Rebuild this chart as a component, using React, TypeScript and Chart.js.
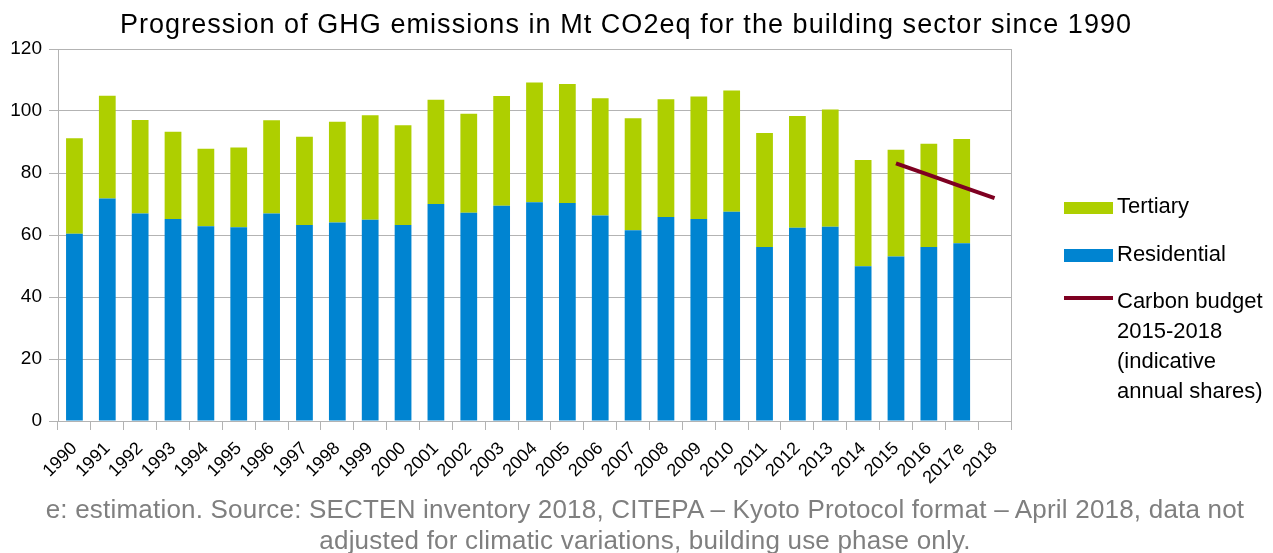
import React, { useEffect, useRef } from 'react';
import { Chart, registerables } from 'chart.js';

Chart.register(...registerables);

const years = ['1990', '1991', '1992', '1993', '1994', '1995', '1996', '1997', '1998', '1999', '2000', '2001', '2002', '2003', '2004', '2005', '2006', '2007', '2008', '2009', '2010', '2011', '2012', '2013', '2014', '2015', '2016', '2017e', '2018'];

const residential = [60.4, 71.8, 66.9, 65.2, 62.8, 62.5, 66.9, 63.2, 64.0, 64.9, 63.2, 70.0, 67.2, 69.4, 70.6, 70.3, 66.3, 61.5, 65.8, 65.2, 67.5, 56.1, 62.3, 62.7, 49.9, 53.1, 56.1, 57.3, null];

const tertiary = [30.8, 33.1, 30.2, 28.1, 25.0, 25.7, 30.1, 28.5, 32.5, 33.7, 32.2, 33.6, 31.9, 35.4, 38.6, 38.4, 37.8, 36.2, 38.0, 39.5, 39.1, 36.8, 36.1, 37.8, 34.3, 34.4, 33.3, 33.7, null];

const carbonBudget = [null, null, null, null, null, null, null, null, null, null, null, null, null, null, null, null, null, null, null, null, null, null, null, null, null, 83.1, 79.4, 75.6, 71.9];

const yTicks = { min: 0, max: 120, step: 20 };

const title = 'Progression of GHG emissions in Mt CO2eq for the building sector since 1990';
const footnoteLines = [
  'e: estimation. Source: SECTEN inventory 2018, CITEPA \u2013 Kyoto Protocol format \u2013 April 2018, data not',
  'adjusted for climatic variations, building use phase only.',
];

const legendItems = [
  { label: ['Tertiary'], color: '#aecf00', kind: 'box' },
  { label: ['Residential'], color: '#0084d1', kind: 'box' },
  { label: ['Carbon budget', '2015-2018', '(indicative', 'annual shares)'], color: '#7e0021', kind: 'line' },
];

const FONT = '"Liberation Sans", Arial, sans-serif';
const GRID = '#b3b3b3';

export default function App() {
  const ref = useRef<HTMLCanvasElement | null>(null);

  useEffect(() => {
    if (!ref.current) return;
    const chart = new Chart(ref.current, {
      type: 'bar',
      data: {
        labels: years,
        datasets: [
          {
            type: 'line',
            label: 'Carbon budget 2015-2018 (indicative annual shares)',
            data: carbonBudget,
            borderColor: '#7e0021',
            backgroundColor: '#7e0021',
            borderWidth: 4,
            pointRadius: 0,
            stack: 'budget',
            order: 0,
            spanGaps: false,
          } as any,
          {
            label: 'Residential',
            data: residential,
            backgroundColor: '#0084d1',
            stack: 'emissions',
            order: 1,
            barPercentage: 0.51,
            categoryPercentage: 1,
          },
          {
            label: 'Tertiary',
            data: tertiary,
            backgroundColor: '#aecf00',
            stack: 'emissions',
            order: 1,
            barPercentage: 0.51,
            categoryPercentage: 1,
          },
        ],
      },
      options: {
        responsive: false,
        animation: false,
        layout: { padding: { left: 0, right: 20, top: 49, bottom: 64 } },
        plugins: {
          legend: { display: false },
          tooltip: { enabled: false },
          title: { display: false },
        },
        scales: {
          x: {
            stacked: true,
            afterFit: (s: any) => { s.height = 68; },
            grid: { display: true, drawOnChartArea: false, drawTicks: true, tickLength: 9, color: GRID, offset: true },
            border: { display: true, color: GRID },
            ticks: {
              autoSkip: false,
              minRotation: 45,
              maxRotation: 45,
              color: '#000',
              padding: 8,
              font: { family: FONT, size: 18 },
            },
          },
          y: {
            stacked: true,
            min: yTicks.min,
            max: yTicks.max,
            afterFit: (s: any) => { s.width = 58; },
            grid: { color: GRID, tickLength: 9 },
            border: { display: true, color: GRID },
            ticks: {
              stepSize: yTicks.step,
              color: '#000',
              padding: 7,
              font: { family: FONT, size: 19 },
            },
          },
          y2: {
            position: 'right',
            min: yTicks.min,
            max: yTicks.max,
            afterFit: (s: any) => { s.width = 242; },
            grid: { display: false },
            border: { display: true, color: GRID },
            ticks: { display: false },
          },
        },
      },
    });
    return () => chart.destroy();
  }, []);

  const legendTops = [191, 238.5, 285.7];

  return (
    <div style={{ position: 'fixed', left: 0, top: 0, width: 1273, height: 553, background: '#fff', fontFamily: FONT, overflow: 'hidden' }}>
      <canvas ref={ref} width={1273} height={553} style={{ position: 'absolute', left: 0, top: 0 }} />
      <div style={{ position: 'absolute', left: 626 - 700, top: 9.4, width: 1400, textAlign: 'center', fontSize: 27, lineHeight: '30px', letterSpacing: '1.05px', color: '#000', whiteSpace: 'nowrap' }}>
        {title}
      </div>
      {legendItems.map((item, i) => (
        <div key={i} style={{ position: 'absolute', left: 1064, top: legendTops[i] }}>
          <div
            style={{
              position: 'absolute',
              left: 0,
              top: 10.5,
              width: 49,
              height: item.kind === 'box' ? 12.5 : 4,
              background: item.color,
            }}
          />
          <div style={{ position: 'absolute', left: 53, top: 0, fontSize: 22, lineHeight: '30px', color: '#000', whiteSpace: 'nowrap' }}>
            {item.label.map((l, j) => (
              <div key={j}>{l}</div>
            ))}
          </div>
        </div>
      ))}
      <div style={{ position: 'absolute', left: 645 - 700, top: 494, width: 1400, textAlign: 'center', fontSize: 26, lineHeight: '31px', letterSpacing: '0.2px', color: '#7f7f7f', whiteSpace: 'nowrap' }}>
        {footnoteLines.map((l, j) => (
          <div key={j}>{l}</div>
        ))}
      </div>
    </div>
  );
}
